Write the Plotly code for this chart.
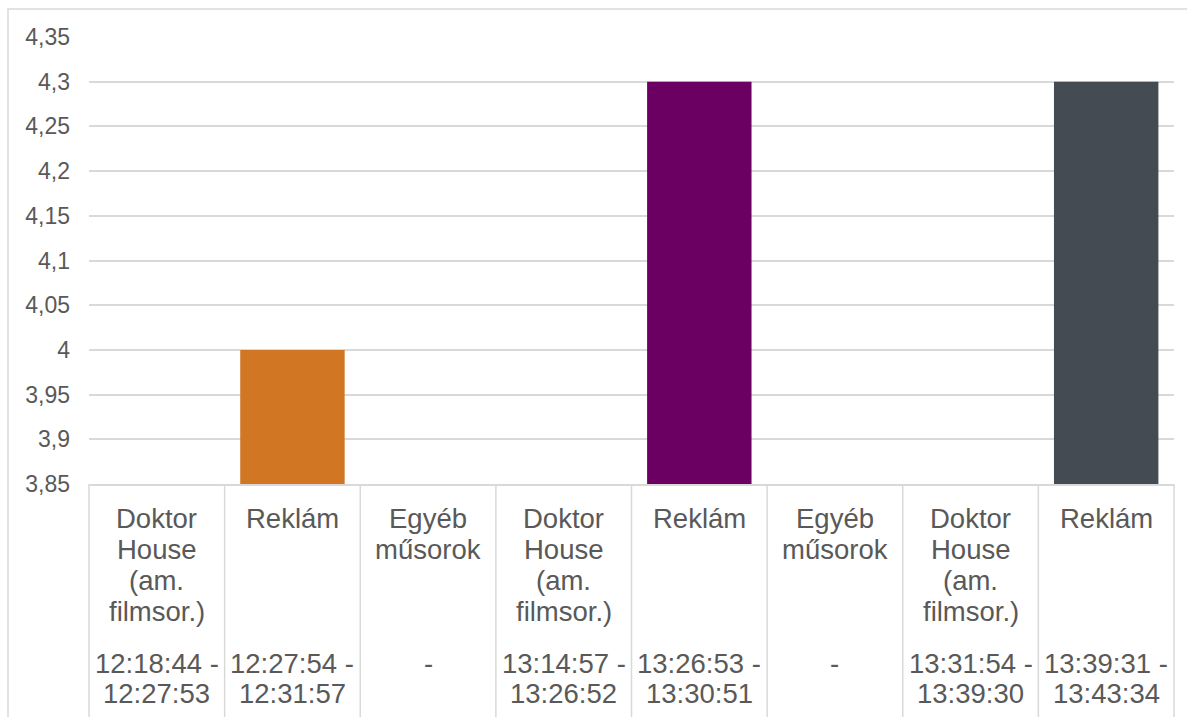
import plotly.graph_objects as go

# ---- data ----
programs = [
    "Doktor<br>House<br>(am.<br>filmsor.)",
    "Reklám",
    "Egyéb<br>műsorok",
    "Doktor<br>House<br>(am.<br>filmsor.)",
    "Reklám",
    "Egyéb<br>műsorok",
    "Doktor<br>House<br>(am.<br>filmsor.)",
    "Reklám",
]
times = [
    "12:18:44 -<br>12:27:53",
    "12:27:54 -<br>12:31:57",
    "-",
    "13:14:57 -<br>13:26:52",
    "13:26:53 -<br>13:30:51",
    "-",
    "13:31:54 -<br>13:39:30",
    "13:39:31 -<br>13:43:34",
]
values = [None, 4.0, None, None, 4.3, None, None, 4.3]
bar_colors = ["#D17622", "#D17622", "#D17622", "#6B0062", "#6B0062", "#454B53", "#454B53", "#454B53"]
tick_vals = [3.85, 3.9, 3.95, 4.0, 4.05, 4.1, 4.15, 4.2, 4.25, 4.3, 4.35]
tick_text = ["3,85", "3,9", "3,95", "4", "4,05", "4,1", "4,15", "4,2", "4,25", "4,3", "4,35"]

# ---- layout constants ----
W, H = 1187, 717
ML, MR, MT, MB = 89, 13, 37, 233
PW, PH = W - ML - MR, H - MT - MB
TXT = "#595959"
GRID = "#d9d9d9"
FONT = "Liberation Sans, Arial, sans-serif"

n = len(values)
xs = list(range(n))

fig = go.Figure()
fig.add_trace(go.Bar(
    x=xs, y=values, marker=dict(color=bar_colors, line=dict(width=0)),
    width=0.77, hoverinfo="skip", showlegend=False,
))

shapes = []
# chart border (extends beyond the image to the right and bottom)
shapes.append(dict(
    type="rect", xref="paper", yref="paper",
    x0=(8 - ML) / PW, x1=(W + 20 - ML) / PW,
    y0=-(H + 20 - MT - PH) / PH, y1=(MT + PH - 9) / PH,
    line=dict(color=GRID, width=1.5), fillcolor="rgba(0,0,0,0)", layer="below",
))
# category separators
for i in range(n + 1):
    shapes.append(dict(
        type="line", xref="paper", yref="paper",
        x0=i / n, x1=i / n, y0=0, y1=-(MB + 10) / PH,
        line=dict(color=GRID, width=1.5),
    ))

annotations = []
line_h = 31
for i in range(n):
    for j, ln in enumerate(programs[i].split("<br>")):
        annotations.append(dict(
            x=i, xref="x", y=0, yref="paper", yanchor="middle", xanchor="center",
            yshift=-(34 + j * line_h), text=ln, showarrow=False,
            font=dict(family=FONT, size=27.5, color=TXT),
        ))
    for j, ln in enumerate(times[i].split("<br>")):
        annotations.append(dict(
            x=i, xref="x", y=0, yref="paper", yanchor="middle", xanchor="center",
            yshift=-(179 + j * 30), text=ln, showarrow=False,
            font=dict(family=FONT, size=27.5, color=TXT),
        ))

fig.update_layout(
    width=W, height=H,
    margin=dict(l=ML, r=MR, t=MT, b=MB, pad=0),
    paper_bgcolor="white", plot_bgcolor="white",
    font=dict(family=FONT, color=TXT),
    xaxis=dict(range=[-0.5, n - 0.5], showticklabels=False, showgrid=False,
               zeroline=False, showline=True, linecolor=GRID, linewidth=1.5, ticks=""),
    yaxis=dict(range=[3.85, 4.35], tickvals=tick_vals, ticktext=tick_text,
               showgrid=True, gridcolor=GRID, gridwidth=1.5, zeroline=False,
               showline=False, ticks="", ticklabelstandoff=18,
               tickfont=dict(family=FONT, size=23, color=TXT)),
    shapes=shapes, annotations=annotations,
    bargap=0.23, hovermode=False,
)

fig.write_html(
    "out.html",
    config={"displayModeBar": False},
    post_script="document.body.style.margin='0';document.body.style.overflow='hidden';",
)
